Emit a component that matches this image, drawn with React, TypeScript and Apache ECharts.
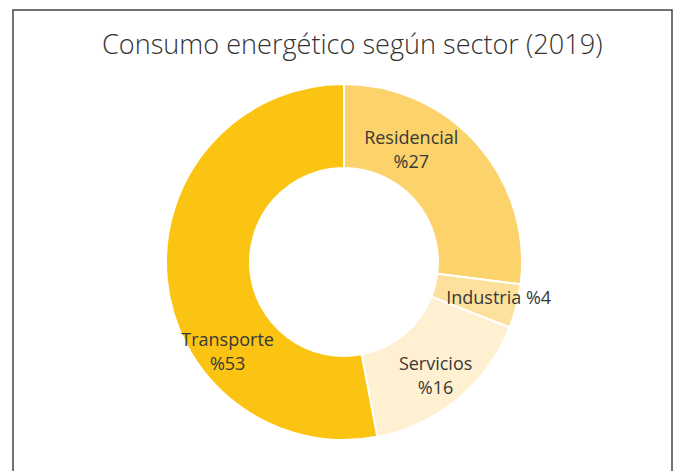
import React, { useEffect, useRef } from "react";
import * as echarts from "echarts";

const TITLE = "Consumo energético según sector (2019)";
const sectors = ["Residencial", "Industria", "Servicios", "Transporte"];
const shares = [27, 4, 16, 53];
const colors = ["#FCD26A", "#FDE09C", "#FEF0D0", "#FBC312"];
const twoLine = [true, false, true, true];
// label nudges (dx, dy) from default inside position
const labelDx = [-37, 20, 3, 22];
const labelDy = [-21, 0, 6, 76];

export default function App() {
  const ref = useRef<HTMLDivElement>(null);
  useEffect(() => {
    if (!ref.current) return;
    const chart = echarts.init(ref.current, null, { renderer: "svg" });
    chart.setOption({
      animation: false,
      backgroundColor: "#ffffff",
      title: {
        text: TITLE,
        left: 97,
        top: 25,
        textStyle: {
          fontFamily: "Open Sans",
          fontWeight: 300,
          fontSize: 27.1,
          color: "#333333",
        },
      },
      graphic: [
        {
          type: "rect",
          shape: { x: 13, y: 10, width: 659, height: 600 },
          style: { fill: "none", stroke: "#444444", lineWidth: 1.5 },
          silent: true,
        },
      ],
      series: [
        {
          type: "pie",
          center: [344, 262],
          radius: [94, 178],
          startAngle: 90,
          clockwise: true,
          avoidLabelOverlap: false,
          itemStyle: { borderColor: "#ffffff", borderWidth: 2 },
          label: {
            show: true,
            position: "inside",
            fontFamily: "Open Sans",
            fontWeight: 400,
            fontSize: 18,
            lineHeight: 24,
            color: "#383838",
            formatter: (p: any) =>
              twoLine[p.dataIndex] ? `${p.name}\n%${p.value}` : `${p.name} %${p.value}`,
          },
          labelLine: { show: false },
          labelLayout: (params: any) => ({
            dx: labelDx[params.dataIndex],
            dy: labelDy[params.dataIndex],
          }),
          data: sectors.map((s, i) => ({
            name: s,
            value: shares[i],
            itemStyle: { color: colors[i] },
          })),
        },
      ],
    });
    return () => chart.dispose();
  }, []);
  return (
    <div
      ref={ref}
      style={{ position: "fixed", left: 0, top: 0, width: 684, height: 471 }}
    />
  );
}
